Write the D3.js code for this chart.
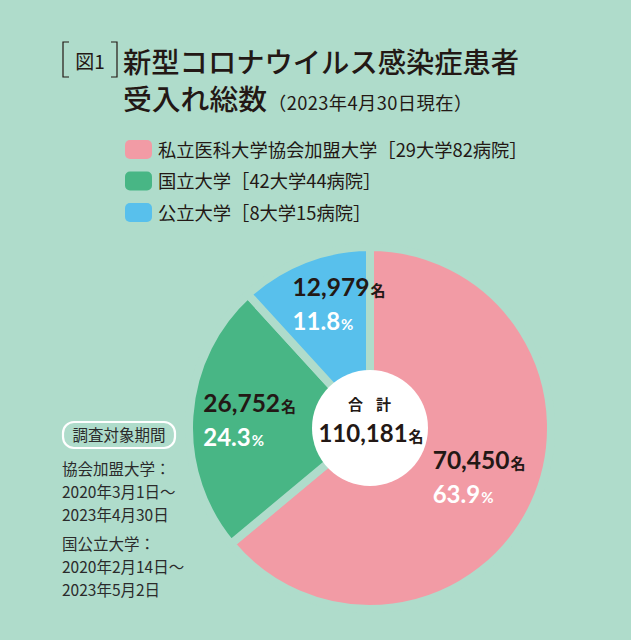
<!DOCTYPE html>
<html><head><meta charset="utf-8">
<script src="https://cdn.jsdelivr.net/npm/d3@7"></script>
<style>
html,body{margin:0;padding:0;background:#afdccb;}
svg{display:block;}
</style></head>
<body>
<svg id="chart" width="631" height="640"></svg>
<script>
// ---- data ----
const categories = ["私立医科大学協会加盟大学", "国立大学", "公立大学"];
const legendNotes = ["［29大学82病院］", "［42大学44病院］", "［8大学15病院］"];
const values = [70450, 26752, 12979];
const percents = ["63.9", "24.3", "11.8"];
const totalLabel = "110,181";
const colors = ["#f29ba5", "#48b685", "#58c0ec"];
const noteLines = ["協会加盟大学：", "2020年3月1日～", "2023年4月30日", "国公立大学：", "2020年2月14日～", "2023年5月2日"];

const BG = "#afdccb";
const INK = "#231815";
const JP = "'Noto Sans CJK JP','Noto Sans',sans-serif";
const NUM = "Lato,'Noto Sans',sans-serif";

const svg = d3.select("#chart");
svg.append("rect").attr("width", 631).attr("height", 640).attr("fill", BG);

// ---- title ----
const bracket = d3.line();
svg.append("path").attr("d", bracket([[69,42],[63,42],[63,77],[69,77]]))
  .attr("fill","none").attr("stroke",INK).attr("stroke-width",1.2);
svg.append("path").attr("d", bracket([[111,42],[117,42],[117,77],[111,77]]))
  .attr("fill","none").attr("stroke",INK).attr("stroke-width",1.2);
svg.append("text").attr("x",90).attr("y",69).attr("text-anchor","middle")
  .attr("font-family",JP).attr("font-size",19).attr("font-weight",400).attr("fill",INK).text("図1");
svg.append("text").attr("x",123).attr("y",73)
  .attr("font-family",JP).attr("font-size",28.3).attr("font-weight",500).attr("fill",INK)
  .text("新型コロナウイルス感染症患者");
const t2 = svg.append("text").attr("x",123).attr("y",110)
  .attr("font-family",JP).attr("fill",INK);
t2.append("tspan").attr("font-size",28.8).attr("font-weight",500).text("受入れ総数");
t2.append("tspan").attr("font-size",18.3).attr("font-weight",400).attr("letter-spacing",0.4).attr("dx",1).text("（2023年4月30日現在）");

// ---- legend ----
const legend = svg.append("g");
categories.forEach((c, i) => {
  const y = 140 + i * 31.5;
  legend.append("rect").attr("x",125).attr("y",y).attr("width",27).attr("height",19)
    .attr("rx",5).attr("fill",colors[i]);
  legend.append("text").attr("x",158).attr("y",y + 16.5)
    .attr("font-family",JP).attr("font-size",18.3).attr("font-weight",400).attr("fill",INK)
    .text(c + legendNotes[i]);
});

// ---- pie ----
const cx = 370, cy = 428, R = 181;
const pie = d3.pie().sort(null).value(d => d);
const arcs = pie(values);
const arc = d3.arc().innerRadius(0).outerRadius(R);
const g = svg.append("g").attr("transform", `translate(${cx},${cy})`);
g.selectAll("path.slice").data(arcs).join("path").attr("class","slice")
  .attr("d", arc).attr("fill", (d,i) => colors[i])
  .attr("stroke", BG).attr("stroke-width", 8).attr("stroke-linejoin","miter");

// center circle
g.append("circle").attr("r", 58).attr("fill", "#ffffff");
g.append("text").attr("x",0).attr("y",-18).attr("text-anchor","middle")
  .attr("font-family",JP).attr("font-size",15).attr("font-weight",700).attr("fill",INK)
  .attr("letter-spacing", 13).attr("dx", 6).text("合計");
const tt = g.append("text").attr("x",1).attr("y",14).attr("text-anchor","middle").attr("fill",INK);
tt.append("tspan").attr("font-family",NUM).attr("font-size",24).attr("font-weight",700).text(totalLabel);
tt.append("tspan").attr("font-family",JP).attr("font-size",15).attr("font-weight",700).attr("dx",1).text("名");

// slice labels
const labelArc = d3.arc().innerRadius(120).outerRadius(120);
const labelAdjust = [[-46,-10],[-47,-8],[-34,-20]];
arcs.forEach((d, i) => {
  const [lx, ly] = labelArc.centroid(d);
  const x = lx + labelAdjust[i][0], y = ly + labelAdjust[i][1];
  const n = g.append("text").attr("x", x).attr("y", y).attr("fill", INK);
  n.append("tspan").attr("font-family",NUM).attr("font-size",24.5).attr("font-weight",700)
    .text(d3.format(",")(d.value));
  n.append("tspan").attr("font-family",JP).attr("font-size",15).attr("font-weight",700).attr("dx",1).text("名");
  const p = g.append("text").attr("x", x).attr("y", y + 34).attr("fill", "#ffffff");
  p.append("tspan").attr("font-family",NUM).attr("font-size",24).attr("font-weight",700).text(percents[i]);
  p.append("tspan").attr("font-family",NUM).attr("font-size",15).attr("font-weight",700).attr("dx",1).text("%");
});

// ---- survey period note ----
svg.append("rect").attr("x",63).attr("y",422).attr("width",112).attr("height",26).attr("rx",11)
  .attr("fill","none").attr("stroke","#ffffff").attr("stroke-width",2.2);
svg.append("text").attr("x",119).attr("y",441).attr("text-anchor","middle")
  .attr("font-family",JP).attr("font-size",15.5).attr("fill","#2b2b2b").text("調査対象期間");
const noteY = [475, 498, 521, 550, 573, 596];
noteLines.forEach((s, i) => {
  svg.append("text").attr("x",62).attr("y",noteY[i])
    .attr("font-family",JP).attr("font-size",15.5).attr("fill","#2b2b2b").text(s);
});
</script>
</body></html>
